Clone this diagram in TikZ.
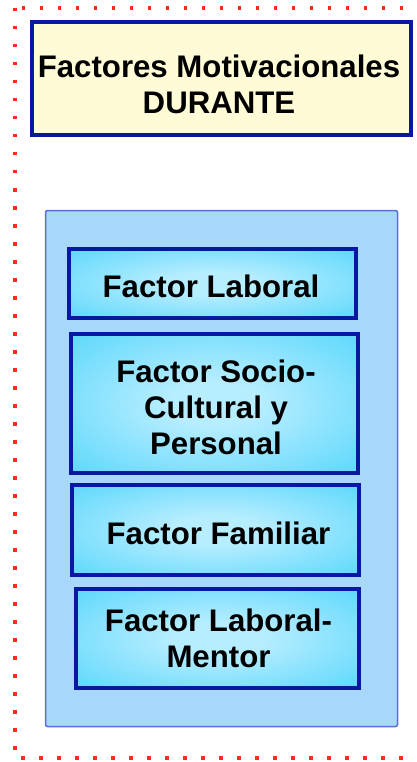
\documentclass[tikz,border=0pt]{standalone}
\usepackage{fontspec}
\setmainfont{Liberation Sans}
\definecolor{dotred}{HTML}{FF2A1A}
\definecolor{titlefill}{HTML}{FFFBD6}
\definecolor{darkblue}{HTML}{0818A0}
\definecolor{contfill}{HTML}{A8D7FC}
\definecolor{contline}{HTML}{5C6ED6}
\definecolor{cyanin}{HTML}{B6EDFF}
\definecolor{cyanout}{HTML}{3ED1FB}
\pgfdeclareradialshading{factorshade}{\pgfpoint{0bp}{0bp}}{color(0bp)=(cyanin); color(8bp)=(cyanin); color(45bp)=(cyanout); color(50bp)=(cyanout)}
\tikzset{
  titlebox/.style={draw=darkblue, line width=4pt, fill=titlefill, inner sep=0pt, outer sep=0pt},
  contbox/.style={draw=contline, line width=1.5pt, fill=contfill, rounded corners=2pt, inner sep=0pt, outer sep=0pt},
  factorbox/.style={draw=darkblue, line width=4pt, shading=factorshade, shade, inner sep=0pt, outer sep=0pt},
  lbl/.style={font=\fontsize{31.2}{36}\selectfont\bfseries, align=center, inner sep=0pt, text=black}
}
\begin{document}
\begin{tikzpicture}[x=1pt,y=-1pt]
\useasboundingbox (0,0) rectangle (416,762);
% dotted frame
\draw[dotred, line width=3.5pt, dash pattern=on 3.5pt off 14.5pt] (15,8) rectangle (440,758);
% title
\node[titlebox, minimum width=379pt, minimum height=113pt] (title) at (221.5,78.5) {};
\node[lbl] (titletext) at (219,84) {Factores Motivacionales\\DURANTE};
% container
\node[contbox, minimum width=352pt, minimum height=516pt] (cont) at (221.5,468.5) {};
% factor boxes
\node[factorbox, minimum width=287pt, minimum height=69pt] (lab) at (212.5,283.5) {};
\node[factorbox, minimum width=287pt, minimum height=139pt] (soc) at (214.5,403.5) {};
\node[factorbox, minimum width=287pt, minimum height=90pt] (fam) at (215.5,530) {};
\node[factorbox, minimum width=283pt, minimum height=99pt] (men) at (217.5,638.5) {};
\node[lbl] (labtext) at (211,286) {Factor Laboral};
\node[lbl] (soctext) at (216,407) {Factor Socio-\\Cultural y\\Personal};
\node[lbl] (famtext) at (218.5,533.5) {Factor Familiar};
\node[lbl] (mentext) at (218.5,638.5) {Factor Laboral-\\Mentor};
\end{tikzpicture}
\end{document}
